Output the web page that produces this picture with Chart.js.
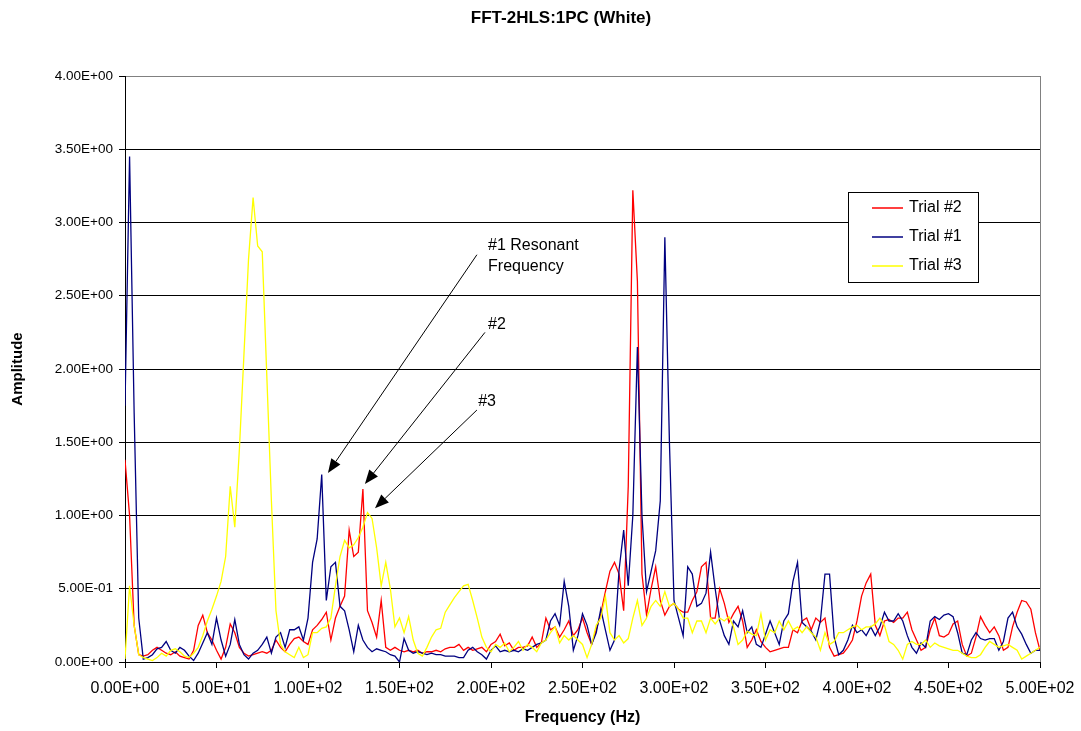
<!DOCTYPE html>
<html>
<head>
<meta charset="utf-8">
<title>FFT-2HLS:1PC (White)</title>
<script src="https://cdn.jsdelivr.net/npm/chart.js@4.4.1/dist/chart.umd.min.js"></script>
<style>
  html, body { margin: 0; padding: 0; background: #fff; }
  #wrap { width: 1081px; height: 731px; }
</style>
</head>
<body>
<div id="wrap"><canvas id="grafico" width="1081" height="731"></canvas></div>
<script>
// FFT bins, 2.5 Hz apart, 0 .. 500 Hz
const freqStep = 2.5;

const trial2 = [
  1.38, 1.0, 0.25, 0.05, 0.04, 0.05, 0.08, 0.1, 0.08, 0.06,
  0.05, 0.07, 0.04, 0.03, 0.02, 0.08, 0.25, 0.32, 0.2, 0.15,
  0.08, 0.02, 0.1, 0.26, 0.2, 0.1, 0.06, 0.04, 0.05, 0.06,
  0.07, 0.06, 0.08, 0.15, 0.1, 0.07, 0.12, 0.16, 0.17, 0.14,
  0.12, 0.22, 0.25, 0.29, 0.34, 0.15, 0.3, 0.38, 0.45, 0.9,
  0.72, 0.75, 1.18, 0.35, 0.27, 0.17, 0.42, 0.1, 0.08, 0.1,
  0.08, 0.07, 0.08, 0.07, 0.08, 0.06, 0.07, 0.07, 0.08, 0.07,
  0.09, 0.1, 0.1, 0.12, 0.08, 0.1, 0.08, 0.09, 0.1, 0.07,
  0.12, 0.14, 0.19, 0.11, 0.13, 0.08, 0.1, 0.1, 0.11, 0.17,
  0.1, 0.13, 0.3, 0.22, 0.24, 0.17, 0.22, 0.28, 0.18, 0.22,
  0.3, 0.2, 0.12, 0.22, 0.33, 0.48, 0.62, 0.68, 0.6, 0.35,
  1.2, 3.22, 2.6, 0.6, 0.32, 0.5, 0.65, 0.42, 0.32, 0.38,
  0.4, 0.36, 0.34, 0.34, 0.42, 0.48, 0.65, 0.68, 0.3, 0.3,
  0.5, 0.4, 0.27, 0.33, 0.38, 0.28, 0.1, 0.15, 0.22, 0.14,
  0.1, 0.07, 0.08, 0.09, 0.1, 0.1, 0.22, 0.2, 0.28, 0.3,
  0.22, 0.3, 0.27, 0.3, 0.1, 0.04, 0.05, 0.06, 0.1, 0.15,
  0.28, 0.45, 0.54, 0.6, 0.25, 0.18, 0.28, 0.29, 0.27, 0.3,
  0.3, 0.34, 0.22, 0.15, 0.08, 0.1, 0.22, 0.3, 0.18, 0.17,
  0.19, 0.26, 0.28, 0.12, 0.04, 0.06, 0.17, 0.31, 0.25, 0.2,
  0.24, 0.18, 0.08, 0.1, 0.24, 0.34, 0.42, 0.41, 0.36, 0.2,
  0.08
];

const trial1 = [
  1.75, 3.45, 1.7, 0.3, 0.02, 0.03, 0.05, 0.09, 0.1, 0.14,
  0.08, 0.06, 0.1, 0.08, 0.04, 0.01, 0.06, 0.13, 0.2, 0.12,
  0.3, 0.15, 0.04, 0.12, 0.29, 0.12, 0.05, 0.02, 0.06, 0.08,
  0.12, 0.17, 0.06, 0.17, 0.2, 0.1, 0.22, 0.22, 0.24, 0.15,
  0.3, 0.68, 0.84, 1.28, 0.42, 0.65, 0.68, 0.38, 0.35, 0.22,
  0.07, 0.25, 0.15, 0.1, 0.07, 0.09, 0.08, 0.07, 0.05, 0.04,
  0.0, 0.16, 0.08, 0.06, 0.07, 0.06, 0.05, 0.06, 0.05, 0.05,
  0.04, 0.04, 0.04, 0.03, 0.03, 0.08, 0.1, 0.07, 0.05, 0.02,
  0.08, 0.11, 0.07, 0.08, 0.07, 0.08, 0.07, 0.09, 0.08, 0.1,
  0.12, 0.13, 0.15, 0.28, 0.33, 0.25, 0.55, 0.38, 0.08, 0.18,
  0.33, 0.25, 0.12, 0.2, 0.36, 0.22, 0.08, 0.15, 0.63, 0.9,
  0.52, 1.0, 2.15, 1.0, 0.48, 0.62, 0.76, 1.1, 2.9, 1.5,
  0.42, 0.3, 0.18, 0.65, 0.6, 0.38, 0.4, 0.47, 0.75, 0.5,
  0.28, 0.18, 0.12, 0.28, 0.24, 0.35, 0.2, 0.24, 0.12, 0.1,
  0.19, 0.28, 0.2, 0.12, 0.28, 0.33, 0.55, 0.68, 0.27, 0.24,
  0.21, 0.15, 0.28, 0.6, 0.6, 0.17, 0.05, 0.08, 0.15, 0.25,
  0.2, 0.22, 0.18, 0.24, 0.18, 0.24, 0.34, 0.28, 0.28, 0.33,
  0.28, 0.18, 0.1, 0.06, 0.13, 0.1, 0.28, 0.31, 0.29, 0.32,
  0.33, 0.31, 0.2, 0.06, 0.05, 0.15, 0.2, 0.16, 0.15, 0.16,
  0.16, 0.08, 0.14, 0.3, 0.34, 0.24, 0.19, 0.12, 0.06, 0.08,
  0.08
];

const trial3 = [
  0.02, 0.52, 0.25, 0.05, 0.03, 0.02, 0.01, 0.03, 0.06, 0.04,
  0.08, 0.09, 0.07, 0.04, 0.03, 0.06, 0.1, 0.18, 0.28, 0.36,
  0.45, 0.55, 0.72, 1.2, 0.92, 1.45, 2.1, 2.75, 3.17, 2.84,
  2.8, 1.95, 1.1, 0.35, 0.12, 0.07, 0.05, 0.03, 0.1, 0.03,
  0.05, 0.2, 0.2, 0.23, 0.24, 0.3, 0.52, 0.72, 0.83, 0.78,
  0.8, 0.85, 0.92, 1.02, 0.98, 0.78, 0.52, 0.68, 0.5, 0.24,
  0.3, 0.2, 0.31, 0.15, 0.06, 0.04, 0.1, 0.17, 0.22, 0.23,
  0.34, 0.39, 0.44, 0.48, 0.52, 0.53, 0.42, 0.3, 0.17, 0.1,
  0.07, 0.12, 0.1, 0.13, 0.07, 0.1, 0.14, 0.08, 0.12, 0.1,
  0.07, 0.13, 0.15, 0.2, 0.24, 0.13, 0.18, 0.15, 0.18, 0.15,
  0.12, 0.03, 0.12, 0.25, 0.3, 0.45, 0.2, 0.15, 0.18, 0.13,
  0.16, 0.3, 0.42, 0.25, 0.3, 0.38, 0.42, 0.38, 0.48, 0.38,
  0.4, 0.36, 0.3, 0.3, 0.2, 0.28, 0.28, 0.2, 0.3, 0.26,
  0.3, 0.28, 0.31, 0.24, 0.12, 0.15, 0.21, 0.19, 0.18, 0.33,
  0.15, 0.22, 0.2, 0.28, 0.22, 0.28, 0.22, 0.24, 0.2, 0.24,
  0.2, 0.17, 0.08, 0.2, 0.12, 0.14, 0.2, 0.2, 0.22, 0.24,
  0.25, 0.22, 0.24, 0.24, 0.26, 0.3, 0.25, 0.14, 0.12, 0.08,
  0.02, 0.12, 0.14, 0.12, 0.12, 0.15, 0.1, 0.13, 0.11, 0.1,
  0.09, 0.08, 0.08, 0.06, 0.04, 0.03, 0.03, 0.05, 0.1, 0.14,
  0.12, 0.1, 0.11, 0.12, 0.1, 0.08, 0.02, 0.04, 0.06, 0.08,
  0.1
];

const freqs = trial2.map((_, i) => i * freqStep);

const freqTicks = [0, 50, 100, 150, 200, 250, 300, 350, 400, 450, 500];
const ampTicks = [0, 0.5, 1, 1.5, 2, 2.5, 3, 3.5, 4];

const tituloGrafico = "FFT-2HLS:1PC (White)";

// callouts, in chart units (Hz, amplitude)
const notes = [
  { lines: ["#1 Resonant", "Frequency"], x: 198.4, y: 2.84 },
  { lines: ["#2"], x: 198.4, y: 2.3 },
  { lines: ["#3"], x: 193, y: 1.775 }
];
const arrows = [
  { from: [192.3, 2.78], to: [110.9, 1.29] },
  { from: [196.7, 2.25], to: [131.1, 1.215] },
  { from: [192.3, 1.72], to: [136.6, 1.05] }
];

const FONT = "'Liberation Sans', Arial, Helvetica, sans-serif";

function sci(v) {
  const [m, e] = Number(v).toExponential(2).split("e");
  const n = Math.abs(parseInt(e, 10));
  return m + "E" + (e[0] === "-" ? "-" : "+") + String(n).padStart(2, "0");
}

function pares(ys) {
  return ys.map((y, i) => ({ x: freqs[i], y }));
}

// title sits a bit right of the canvas centre in the original
const titlePlugin = {
  id: "tituloFixo",
  afterDraw(chart) {
    const { ctx, chartArea } = chart;
    ctx.save();
    ctx.font = "bold 17px " + FONT;
    ctx.fillStyle = "#000";
    ctx.textAlign = "center";
    ctx.textBaseline = "middle";
    ctx.fillText(tituloGrafico, chartArea.left + 436, 18);
    ctx.restore();
  }
};

// arrows + text labels
const calloutPlugin = {
  id: "callouts",
  afterDatasetsDraw(chart) {
    const { ctx, scales } = chart;
    const sx = scales.x, sy = scales.y;
    ctx.save();
    ctx.strokeStyle = "#000";
    ctx.fillStyle = "#000";
    ctx.lineWidth = 1;
    arrows.forEach(a => {
      const x1 = sx.getPixelForValue(a.from[0]), y1 = sy.getPixelForValue(a.from[1]);
      const x2 = sx.getPixelForValue(a.to[0]), y2 = sy.getPixelForValue(a.to[1]);
      const ang = Math.atan2(y2 - y1, x2 - x1);
      const len = 14, half = 5.5;
      const bx = x2 - len * Math.cos(ang), by = y2 - len * Math.sin(ang);
      ctx.beginPath();
      ctx.moveTo(x1, y1);
      ctx.lineTo(bx, by);
      ctx.stroke();
      ctx.beginPath();
      ctx.moveTo(x2, y2);
      ctx.lineTo(bx + half * Math.sin(ang), by - half * Math.cos(ang));
      ctx.lineTo(bx - half * Math.sin(ang), by + half * Math.cos(ang));
      ctx.closePath();
      ctx.fill();
    });
    ctx.font = "16px " + FONT;
    ctx.textAlign = "left";
    ctx.textBaseline = "middle";
    notes.forEach(n => {
      const x = sx.getPixelForValue(n.x), y = sy.getPixelForValue(n.y);
      n.lines.forEach((t, i) => ctx.fillText(t, x, y + i * 21));
    });
    ctx.restore();
  }
};

// boxed legend inside the plot, like the original
const legendPlugin = {
  id: "caixaLegenda",
  afterDraw(chart) {
    const { ctx, chartArea } = chart;
    const left = chartArea.right - 192, top = chartArea.top + 116;
    ctx.save();
    ctx.fillStyle = "#fff";
    ctx.fillRect(left, top, 130, 90);
    ctx.strokeStyle = "#000";
    ctx.lineWidth = 1;
    ctx.strokeRect(left + 0.5, top + 0.5, 130, 90);
    ctx.font = "16px " + FONT;
    ctx.textBaseline = "middle";
    chart.data.datasets.forEach((ds, i) => {
      const y = top + 16 + i * 29;
      ctx.strokeStyle = ds.borderColor;
      ctx.lineWidth = 1.5;
      ctx.beginPath();
      ctx.moveTo(left + 24, y);
      ctx.lineTo(left + 55, y);
      ctx.stroke();
      ctx.fillStyle = "#000";
      ctx.fillText(ds.label, left + 61, y);
    });
    ctx.restore();
  }
};

const ctx = document.getElementById("grafico").getContext("2d");
new Chart(ctx, {
  type: "line",
  data: {
    datasets: [
      { label: "Trial #2", data: pares(trial2), borderColor: "#ff0000", order: 2 },
      { label: "Trial #1", data: pares(trial1), borderColor: "#000080", order: 1 },
      { label: "Trial #3", data: pares(trial3), borderColor: "#ffff00", order: 0 }
    ]
  },
  options: {
    responsive: false,
    animation: false,
    datasets: {
      line: { borderWidth: 1.3, pointRadius: 0, tension: 0, fill: false }
    },
    layout: { padding: { left: 0, right: 41, top: 76, bottom: 0 } },
    plugins: {
      legend: { display: false },
      tooltip: { enabled: false },
      title: { display: false }
    },
    scales: {
      x: {
        type: "linear",
        min: 0,
        max: 500,
        afterBuildTicks: s => { s.ticks = freqTicks.map(v => ({ value: v })); },
        afterFit: s => {
          s.height = 69;
          s.paddingLeft = 0;
          s.paddingRight = 0;
        },
        ticks: {
          callback: v => sci(v),
          color: "#000",
          font: { family: FONT, size: 16 },
          padding: 11,
          maxRotation: 0,
          autoSkip: false
        },
        grid: {
          color: c => (c.tick && c.tick.value === 500 ? "#808080" : "rgba(0,0,0,0)"),
          tickColor: "#000",
          tickLength: 6,
          lineWidth: 1
        },
        border: { color: "#000", width: 1 },
        title: {
          display: true,
          text: "Frequency (Hz)",
          color: "#000",
          font: { family: FONT, size: 16, weight: "bold" },
          padding: { top: 0, bottom: 4 }
        }
      },
      y: {
        min: 0,
        max: 4,
        afterBuildTicks: s => { s.ticks = ampTicks.map(v => ({ value: v })); },
        afterFit: s => {
          s.width = 125;
          s.paddingTop = 0;
          s.paddingBottom = 0;
        },
        ticks: {
          callback: v => sci(v),
          color: "#000",
          font: { family: FONT, size: 13.5 },
          padding: 6
        },
        grid: {
          color: c => (c.tick && c.tick.value === 4 ? "#808080" : "#000"),
          tickColor: "#000",
          tickLength: 6,
          lineWidth: 1
        },
        border: { color: "#000", width: 1 },
        title: {
          display: true,
          text: "Amplitude",
          color: "#000",
          font: { family: FONT, size: 15, weight: "bold" },
          padding: { top: 9, bottom: 0 }
        }
      }
    }
  },
  plugins: [calloutPlugin, legendPlugin, titlePlugin]
});
</script>
</body>
</html>
